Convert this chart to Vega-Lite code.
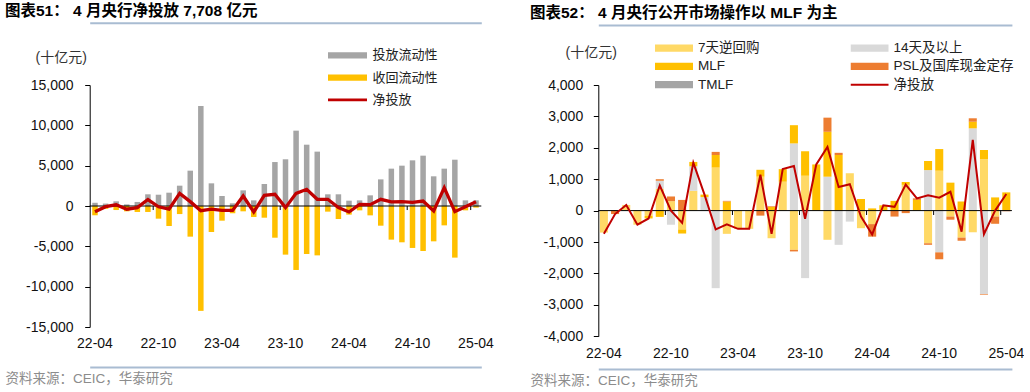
{
  "$schema": "https://vega.github.io/schema/vega-lite/v6.json",
  "background": "white",
  "padding": {"left": 5, "top": 4, "right": 0, "bottom": 0},
  "config": {
    "font": "Liberation Sans, Noto Sans CJK SC",
    "view": {"stroke": null},
    "concat": {"spacing": 30},
    "axis": {"labelFont": "Liberation Sans, Noto Sans CJK SC", "titleFont": "Liberation Sans, Noto Sans CJK SC", "grid": false},
    "legend": {"labelFont": "Liberation Sans, Noto Sans CJK SC"}
  },
  "datasets": {
    "left": [
      {"m":"22-04","投放流动性":400,"收回流动性":-1150,"净投放":-700},
      {"m":"22-05","投放流动性":300,"收回流动性":-350,"净投放":-80},
      {"m":"22-06","投放流动性":580,"收回流动性":-500,"净投放":150},
      {"m":"22-07","投放流动性":200,"收回流动性":-660,"净投放":-400},
      {"m":"22-08","投放流动性":500,"收回流动性":-740,"净投放":-200},
      {"m":"22-09","投放流动性":1450,"收回流动性":-740,"净投放":800},
      {"m":"22-10","投放流动性":1400,"收回流动性":-1570,"净投放":-100},
      {"m":"22-11","投放流动性":1650,"收回流动性":-2480,"净投放":-400},
      {"m":"22-12","投放流动性":2520,"收回流动性":-1000,"净投放":1570},
      {"m":"23-01","投放流动性":4380,"收回流动性":-3800,"净投放":540},
      {"m":"23-02","投放流动性":12400,"收回流动性":-13000,"净投放":-580},
      {"m":"23-03","投放流动性":2810,"收回流动性":-3220,"净投放":-400},
      {"m":"23-04","投放流动性":1240,"收回流动性":-1820,"净投放":-540},
      {"m":"23-05","投放流动性":330,"收回流动性":-900,"净投放":-540},
      {"m":"23-06","投放流动性":1940,"收回流动性":-660,"净投放":1240},
      {"m":"23-07","投放流动性":700,"收回流动性":-1360,"净投放":-740},
      {"m":"23-08","投放流动性":2730,"收回流动性":-1450,"净投放":1320},
      {"m":"23-09","投放流动性":5450,"收回流动性":-3930,"净投放":1450},
      {"m":"23-10","投放流动性":5790,"收回流动性":-6030,"净投放":-200},
      {"m":"23-11","投放流动性":9340,"收回流动性":-7930,"净投放":1570},
      {"m":"23-12","投放流动性":7600,"收回流动性":-5950,"净投放":2070},
      {"m":"24-01","投放流动性":6740,"收回流动性":-6120,"净投放":830},
      {"m":"24-02","投放流动性":1450,"收回流动性":-700,"净投放":830},
      {"m":"24-03","投放流动性":1450,"收回流动性":-1610,"净投放":-200},
      {"m":"24-04","投放流动性":660,"收回流动性":-1070,"净投放":-740},
      {"m":"24-05","投放流动性":700,"收回流动性":-540,"净投放":200},
      {"m":"24-06","投放流动性":1320,"收回流动性":-1160,"净投放":170},
      {"m":"24-07","投放流动性":3300,"收回流动性":-2440,"净投放":830},
      {"m":"24-08","投放流动性":4630,"收回流动性":-4170,"净投放":500},
      {"m":"24-09","投放流动性":5000,"收回流动性":-4500,"净投放":540},
      {"m":"24-10","投放流动性":5660,"收回流动性":-5200,"净投放":450},
      {"m":"24-11","投放流动性":6240,"收回流动性":-5580,"净投放":620},
      {"m":"24-12","投放流动性":3680,"收回流动性":-4380,"净投放":-620},
      {"m":"25-01","投放流动性":4630,"收回流动性":-2400,"净投放":2270},
      {"m":"25-02","投放流动性":5740,"收回流动性":-6400,"净投放":-700},
      {"m":"25-03","投放流动性":700,"收回流动性":-540,"净投放":-80},
      {"m":"25-04","投放流动性":700,"收回流动性":-200,"净投放":540}
    ],
    "right": [
      {"m":"22-04","7天逆回购":-700,"14天及以上":0,"MLF":0,"PSL及国库现金定存":0,"净投放":-740},
      {"m":"22-05","7天逆回购":0,"14天及以上":0,"MLF":0,"PSL及国库现金定存":-110,"净投放":-110},
      {"m":"22-06","7天逆回购":180,"14天及以上":0,"MLF":0,"PSL及国库现金定存":0,"净投放":180},
      {"m":"22-07","7天逆回购":-450,"14天及以上":0,"MLF":0,"PSL及国库现金定存":0,"净投放":-450},
      {"m":"22-08","7天逆回购":-170,"14天及以上":0,"MLF":-80,"PSL及国库现金定存":0,"净投放":-250},
      {"m":"22-09","7天逆回购":700,"14天及以上":250,"MLF":-200,"PSL及国库现金定存":50,"净投放":800},
      {"m":"22-10","7天逆回购":300,"14天及以上":-450,"MLF":0,"PSL及国库现金定存":150,"净投放":0},
      {"m":"22-11","7天逆回购":-600,"14天及以上":0,"MLF":-130,"PSL及国库现金定存":340,"净投放":-390},
      {"m":"22-12","7天逆回购":630,"14天及以上":780,"MLF":140,"PSL及国库现金定存":0,"净投放":1530},
      {"m":"23-01","7天逆回购":0,"14天及以上":430,"MLF":80,"PSL及国库现金定存":0,"净投放":510},
      {"m":"23-02","7天逆回购":1370,"14天及以上":-2470,"MLF":400,"PSL及国库现金定存":100,"净投放":-600},
      {"m":"23-03","7天逆回购":-740,"14天及以上":0,"MLF":290,"PSL及国库现金定存":20,"净投放":-440},
      {"m":"23-04","7天逆回购":-580,"14天及以上":0,"MLF":0,"PSL及国库现金定存":0,"净投放":-580},
      {"m":"23-05","7天逆回购":-580,"14天及以上":0,"MLF":0,"PSL及国库现金定存":0,"净投放":-580},
      {"m":"23-06","7天逆回购":1080,"14天及以上":0,"MLF":220,"PSL及国库现金定存":-160,"净投放":1140},
      {"m":"23-07","7天逆回购":-880,"14天及以上":0,"MLF":120,"PSL及国库现金定存":20,"净投放":-740},
      {"m":"23-08","7天逆回购":920,"14天及以上":0,"MLF":400,"PSL及国库现金定存":0,"净投放":1320},
      {"m":"23-09","7天逆回购":-1250,"14天及以上":2140,"MLF":580,"PSL及国库现金定存":-50,"净投放":1420},
      {"m":"23-10","7天逆回购":1110,"14天及以上":-2150,"MLF":780,"PSL及国库现金定存":0,"净投放":-260},
      {"m":"23-11","7天逆回购":0,"14天及以上":0,"MLF":1470,"PSL及国库现金定存":0,"净投放":1470},
      {"m":"23-12","7天逆回购":-930,"14天及以上":1080,"MLF":1430,"PSL及国库现金定存":450,"净投放":2030},
      {"m":"24-01","7天逆回购":0,"14天及以上":-1090,"MLF":1770,"PSL及国库现金定存":70,"净投放":750},
      {"m":"24-02","7天逆回购":1190,"14天及以上":-350,"MLF":0,"PSL及国库现金定存":0,"净投放":840},
      {"m":"24-03","7天逆回购":-560,"14天及以上":0,"MLF":370,"PSL及国库现金定存":0,"净投放":-190},
      {"m":"24-04","7天逆回购":-430,"14天及以上":0,"MLF":70,"PSL及国库现金定存":-400,"净投放":-760},
      {"m":"24-05","7天逆回购":0,"14天及以上":0,"MLF":170,"PSL及国库现金定存":0,"净投放":170},
      {"m":"24-06","7天逆回购":0,"14天及以上":0,"MLF":310,"PSL及国库现金定存":-190,"净投放":120},
      {"m":"24-07","7天逆回购":820,"14天及以上":0,"MLF":90,"PSL及国库现金定存":-80,"净投放":830},
      {"m":"24-08","7天逆回购":0,"14天及以上":0,"MLF":340,"PSL及国库现金定存":50,"净投放":390},
      {"m":"24-09","7天逆回购":-1040,"14天及以上":1290,"MLF":290,"PSL及国库现金定存":-50,"净投放":490},
      {"m":"24-10","7天逆回购":1270,"14天及以上":-1330,"MLF":690,"PSL及国库现金定存":-220,"净投放":410},
      {"m":"24-11","7天逆回购":-190,"14天及以上":0,"MLF":890,"PSL及国库现金定存":-100,"净投放":600},
      {"m":"24-12","7天逆回购":-860,"14天及以上":0,"MLF":290,"PSL及国库现金定存":-100,"净投放":-670},
      {"m":"25-01","7天逆回购":-690,"14天及以上":2620,"MLF":210,"PSL及国库现金定存":110,"净投放":2250},
      {"m":"25-02","7天逆回购":1640,"14天及以上":-2660,"MLF":290,"PSL及国库现金定存":-20,"净投放":-750},
      {"m":"25-03","7天逆回购":-190,"14天及以上":0,"MLF":420,"PSL及国库现金定存":-230,"净投放":0},
      {"m":"25-04","7天逆回购":0,"14天及以上":0,"MLF":580,"PSL及国库现金定存":-20,"净投放":530}
    ]
  },
  "hconcat": [
    {
      "width": 495,
      "height": 242,
      "title": {"text": "图表51：  4 月央行净投放 7,708 亿元", "anchor": "start", "frame": "group", "fontSize": 15.5, "fontWeight": "bold", "color": "#000000", "offset": 3},
      "data": {"name": "left"},
      "transform": [{"fold": ["投放流动性", "收回流动性", "净投放"], "as": ["s", "v"]}],
      "layer": [
        {
          "transform": [{"filter": "datum.s !== '净投放'"}],
          "mark": {"type": "bar"},
          "encoding": {
            "x": {
              "field": "m", "type": "ordinal",
              "scale": {"type": "band", "range": [84.7, 476.3], "paddingInner": 0.48, "paddingOuter": 0.24, "align": 0.5},
              "axis": {"orient": "bottom", "offset": 40, "values": ["22-04","22-10","23-04","23-10","24-04","24-10","25-04"], "labelAngle": 0, "ticks": false, "labelPadding": -23.4, "labelBaseline": "middle", "labelFontSize": 14, "labelColor": "#111111", "domain": true, "domainColor": "#A9BCD2", "domainWidth": 2, "title": "资料来源：CEIC，华泰研究", "titleX": 0, "titleY": 11, "titleAlign": "left", "titleAnchor": "start", "titleBaseline": "middle", "titleFontSize": 13.5, "titleFontWeight": "normal", "titleColor": "#8C8C8C"}
            },
            "y": {
              "field": "v", "type": "quantitative", "stack": "zero",
              "scale": {"domain": [-15000, 15000], "nice": false},
              "axis": {"orient": "left", "offset": -84.7, "values": [-15000, -10000, -5000, 0, 5000, 10000, 15000], "labelExpr": "replace(format(datum.value, ','), '\u2212', '-')", "labelOverlap": false, "domainColor": "#000000", "tickColor": "#000000", "tickSize": 5, "labelPadding": 11.7, "labelFontSize": 14, "labelColor": "#111111", "title": "(十亿元)", "titleAngle": 0, "titleX": -54.7, "titleY": -27.4, "titleAlign": "left", "titleBaseline": "middle", "titleFontSize": 14, "titleFontWeight": "normal", "titleColor": "#333333"}
            },
            "color": {
              "field": "s", "type": "nominal",
              "scale": {"domain": ["投放流动性", "收回流动性", "净投放"], "range": ["#A5A5A5", "#FFC000", "#C00000"]},
              "legend": {"orient": "none", "legendX": 323, "legendY": -36.7, "title": null, "padding": 0, "symbolType": "M-1,-0.16H1V0.16H-1Z", "symbolSize": 1521, "clipHeight": 14, "rowPadding": 8.3, "labelOffset": 5.5, "labelFontSize": 13, "labelColor": "#222222",
                "encode": {"symbols": {"update": {"shape": {"signal": "datum.value === '净投放' ? 'M-1,-0.075H1V0.075H-1Z' : 'M-1,-0.16H1V0.16H-1Z'"}, "fill": {"signal": "datum.value === '净投放' ? '#C00000' : datum.value === '投放流动性' ? '#A5A5A5' : '#FFC000'"}, "stroke": {"value": "transparent"}, "strokeWidth": {"value": 0}, "opacity": {"value": 1}}}}}
            }
          }
        },
        {
          "data": {"values": [{"m": "22-10"}, {"m": "23-10"}, {"m": "24-10"}, {"m": "25-04"}]},
          "mark": {"type": "rule", "color": "#000000", "strokeWidth": 1},
          "encoding": {
            "x": {"field": "m", "type": "ordinal", "bandPosition": -0.4615, "axis": null},
            "y": {"datum": 0, "type": "quantitative"},
            "y2": {"datum": -500}
          }
        },
        {
          "data": {"values": [{}]},
          "mark": {"type": "rule", "color": "#000000", "strokeWidth": 1},
          "encoding": {
            "x": {"datum": "22-04", "type": "ordinal", "bandPosition": -0.4615, "axis": null},
            "x2": {"datum": "25-04", "bandPosition": 1.4615},
            "y": {"datum": 0, "type": "quantitative"}
          }
        },
        {
          "transform": [{"filter": "datum.s === '净投放'"}],
          "mark": {"type": "line", "strokeWidth": 3.3},
          "encoding": {
            "x": {"field": "m", "type": "ordinal", "axis": {"orient": "top", "offset": 62.2, "labels": false, "ticks": false, "domain": true, "domainColor": "#A9BCD2", "domainWidth": 2, "title": null}},
            "y": {"field": "v", "type": "quantitative"},
            "color": {
              "field": "s", "type": "nominal",
              "legend": {"orient": "none", "legendX": 323, "legendY": -36.7, "title": null, "padding": 0, "symbolType": "M-1,-0.16H1V0.16H-1Z", "symbolSize": 1521, "clipHeight": 14, "rowPadding": 8.3, "labelOffset": 5.5, "labelFontSize": 13, "labelColor": "#222222",
                "encode": {"symbols": {"update": {"shape": {"signal": "datum.value === '净投放' ? 'M-1,-0.075H1V0.075H-1Z' : 'M-1,-0.16H1V0.16H-1Z'"}, "fill": {"signal": "datum.value === '净投放' ? '#C00000' : datum.value === '投放流动性' ? '#A5A5A5' : '#FFC000'"}, "stroke": {"value": "transparent"}, "strokeWidth": {"value": 0}, "opacity": {"value": 1}}}}}
            }
          }
        }
      ],
      "resolve": {"axis": {"x": "independent"}}
    },
    {
      "width": 493,
      "height": 251.2,
      "title": {"text": "图表52：  4 月央行公开市场操作以 MLF 为主", "anchor": "start", "frame": "group", "fontSize": 15.5, "fontWeight": "bold", "color": "#000000", "offset": 3},
      "data": {"name": "right"},
      "transform": [
        {"fold": ["7天逆回购", "14天及以上", "MLF", "PSL及国库现金定存", "净投放"], "as": ["s", "v"]},
        {"lookup": "s", "from": {"data": {"values": [{"s": "7天逆回购", "k": 1}, {"s": "14天及以上", "k": 2}, {"s": "MLF", "k": 3}, {"s": "PSL及国库现金定存", "k": 4}, {"s": "TMLF", "k": 5}, {"s": "净投放", "k": 6}]}, "key": "s", "fields": ["k"]}}
      ],
      "layer": [
        {
          "transform": [{"filter": "datum.s !== '净投放'"}],
          "mark": {"type": "bar"},
          "encoding": {
            "x": {
              "field": "m", "type": "ordinal",
              "scale": {"type": "band", "range": [68.3, 481.9], "paddingInner": 0.28, "paddingOuter": 0.14, "align": 0.5},
              "axis": {"orient": "bottom", "offset": 32.9, "values": ["22-04","22-10","23-04","23-10","24-04","24-10","25-04"], "labelAngle": 0, "ticks": false, "labelPadding": -15.2, "labelBaseline": "middle", "labelFontSize": 14, "labelColor": "#111111", "domain": true, "domainColor": "#A9BCD2", "domainWidth": 2, "title": "资料来源：CEIC，华泰研究", "titleX": 0, "titleY": 11, "titleAlign": "left", "titleAnchor": "start", "titleBaseline": "middle", "titleFontSize": 13.5, "titleFontWeight": "normal", "titleColor": "#8C8C8C"}
            },
            "y": {
              "field": "v", "type": "quantitative", "stack": "zero",
              "scale": {"domain": [-4000, 4000], "nice": false},
              "axis": {"orient": "left", "offset": -68.3, "values": [-4000, -3000, -2000, -1000, 0, 1000, 2000, 3000, 4000], "tickCount": 9, "labelExpr": "replace(format(datum.value, ','), '\u2212', '-')", "labelOverlap": false, "domainColor": "#000000", "tickColor": "#000000", "tickSize": 5, "labelPadding": 10.6, "labelFontSize": 14, "labelColor": "#111111", "title": "(十亿元)", "titleAngle": 0, "titleX": -33.3, "titleY": -32.6, "titleAlign": "left", "titleBaseline": "middle", "titleFontSize": 14, "titleFontWeight": "normal", "titleColor": "#333333"}
            },
            "order": {"field": "k", "type": "quantitative", "sort": "ascending"},
            "color": {
              "field": "s", "type": "nominal",
              "scale": {"domain": ["7天逆回购", "14天及以上", "MLF", "PSL及国库现金定存", "TMLF", "净投放"], "range": ["#FFD966", "#D9D9D9", "#FFC000", "#ED7D31", "#A5A5A5", "#C00000"]},
              "legend": {"orient": "none", "legendX": 125, "legendY": -43.9, "title": null, "padding": 0, "direction": "horizontal", "columns": 2, "columnPadding": 90.5, "symbolType": "M-1,-0.19H1V0.19H-1Z", "symbolSize": 1444, "clipHeight": 14, "rowPadding": 4.3, "labelOffset": 5, "labelFontSize": 13.5, "labelColor": "#222222",
                "encode": {"symbols": {"update": {"shape": {"signal": "datum.value === '净投放' ? 'M-1,-0.05H1V0.05H-1Z' : 'M-1,-0.19H1V0.19H-1Z'"}, "fill": {"signal": "datum.value === '7天逆回购' ? '#FFD966' : datum.value === '14天及以上' ? '#D9D9D9' : datum.value === 'MLF' ? '#FFC000' : datum.value === 'PSL及国库现金定存' ? '#ED7D31' : datum.value === 'TMLF' ? '#A5A5A5' : '#C00000'"}, "stroke": {"value": "transparent"}, "strokeWidth": {"value": 0}, "opacity": {"value": 1}}}}}
            }
          }
        },
        {
          "data": {"values": [{"m": "22-10"}, {"m": "23-04"}, {"m": "23-10"}, {"m": "24-04"}, {"m": "24-10"}, {"m": "25-04"}]},
          "mark": {"type": "rule", "color": "#000000", "strokeWidth": 1},
          "encoding": {
            "x": {"field": "m", "type": "ordinal", "bandPosition": -0.194, "axis": null},
            "y": {"datum": 0, "type": "quantitative"},
            "y2": {"datum": -140}
          }
        },
        {
          "data": {"values": [{}]},
          "mark": {"type": "rule", "color": "#000000", "strokeWidth": 1},
          "encoding": {
            "x": {"datum": "22-04", "type": "ordinal", "bandPosition": -0.194, "axis": null},
            "x2": {"datum": "25-04", "bandPosition": 1.194},
            "y": {"datum": 0, "type": "quantitative"}
          }
        },
        {
          "transform": [{"filter": "datum.s === '净投放'"}],
          "mark": {"type": "line", "strokeWidth": 2},
          "encoding": {
            "x": {"field": "m", "type": "ordinal", "axis": {"orient": "top", "offset": 60.1, "labels": false, "ticks": false, "domain": true, "domainColor": "#A9BCD2", "domainWidth": 2, "title": null}},
            "y": {"field": "v", "type": "quantitative"},
            "color": {
              "field": "s", "type": "nominal",
              "legend": {"orient": "none", "legendX": 125, "legendY": -43.9, "title": null, "padding": 0, "direction": "horizontal", "columns": 2, "columnPadding": 90.5, "symbolType": "M-1,-0.19H1V0.19H-1Z", "symbolSize": 1444, "clipHeight": 14, "rowPadding": 4.3, "labelOffset": 5, "labelFontSize": 13.5, "labelColor": "#222222",
                "encode": {"symbols": {"update": {"shape": {"signal": "datum.value === '净投放' ? 'M-1,-0.05H1V0.05H-1Z' : 'M-1,-0.19H1V0.19H-1Z'"}, "fill": {"signal": "datum.value === '7天逆回购' ? '#FFD966' : datum.value === '14天及以上' ? '#D9D9D9' : datum.value === 'MLF' ? '#FFC000' : datum.value === 'PSL及国库现金定存' ? '#ED7D31' : datum.value === 'TMLF' ? '#A5A5A5' : '#C00000'"}, "stroke": {"value": "transparent"}, "strokeWidth": {"value": 0}, "opacity": {"value": 1}}}}}
            }
          }
        }
      ],
      "resolve": {"axis": {"x": "independent"}}
    }
  ],
  "resolve": {"scale": {"color": "independent"}, "legend": {"color": "independent"}}
}
